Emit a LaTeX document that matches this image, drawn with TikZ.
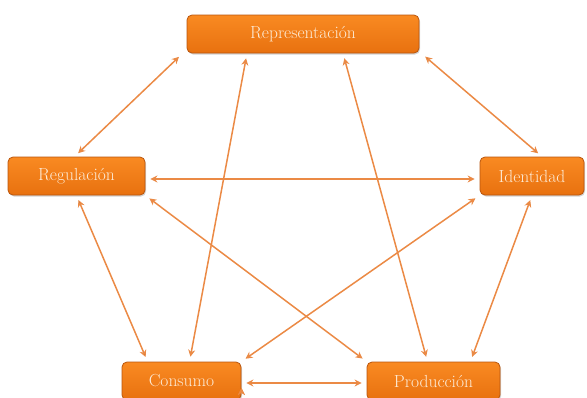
\documentclass[tikz,border=0pt]{standalone}
\usepackage{tikz}
\usetikzlibrary{arrows.meta,positioning,shadows}
\definecolor{boxorange}{HTML}{F98A22}
\definecolor{boxdark}{HTML}{E8710F}
\definecolor{boxedge}{HTML}{B9550D}
\definecolor{linkorange}{HTML}{EB8A45}
\definecolor{labelcream}{HTML}{FDEBD6}

\begin{document}
\begin{tikzpicture}[
	node distance = 100pt,
	on grid,
	> = {Stealth[length=7pt,width=7pt]},
	concept/.style = {rectangle, rounded corners=5pt, draw=boxedge, thick,
		top color=boxorange, bottom color=boxdark, minimum height=38pt,
		inner sep=0pt, text=labelcream, font=\fontsize{17.5}{20}\selectfont,
		drop shadow={shadow xshift=1pt, shadow yshift=-1.5pt, opacity=0.35}},
	link/.style = {<->, draw=linkorange, line width=1.5pt,
		shorten >=5pt, shorten <=5pt}
	]
	\useasboundingbox (0,0) rectangle (587pt,-397pt);
	\node[concept, minimum width=232pt] (rep) at (303pt,-34pt) {Representación};
	\node[concept, minimum width=137pt] (reg) [below left=142pt and 226.5pt of rep] {Regulación};
	\node[concept, minimum width=104pt] (ident) [right=455.5pt of reg] {Identidad};
	\node[concept, minimum width=119pt] (cons) [below right=205pt and 105pt of reg] {Consumo};
	\node[concept, minimum width=133pt] (prod) [right=252pt of cons] {Producción};
	\path[link]
	([xshift=-4pt]rep.south west) edge ([xshift=-2pt]reg.north)
	([xshift=2pt]rep.south east) edge ([xshift=10pt]ident.north)
	([yshift=-3pt]reg.east) edge ([yshift=-3pt]ident.west)
	(reg.south) edge ([xshift=26pt]cons.north west)
	([xshift=8pt]cons.north) edge ([xshift=-56pt]rep.south)
	(reg.south east) edge (prod.north west)
	(cons.north east) edge (ident.south west)
	([xshift=40pt]rep.south) edge ([xshift=-6pt]prod.north)
	(ident.south) edge ([xshift=-30pt]prod.north east)
	([yshift=-2pt]cons.east) edge ([yshift=-2pt]prod.west);
\end{tikzpicture}
\end{document}
